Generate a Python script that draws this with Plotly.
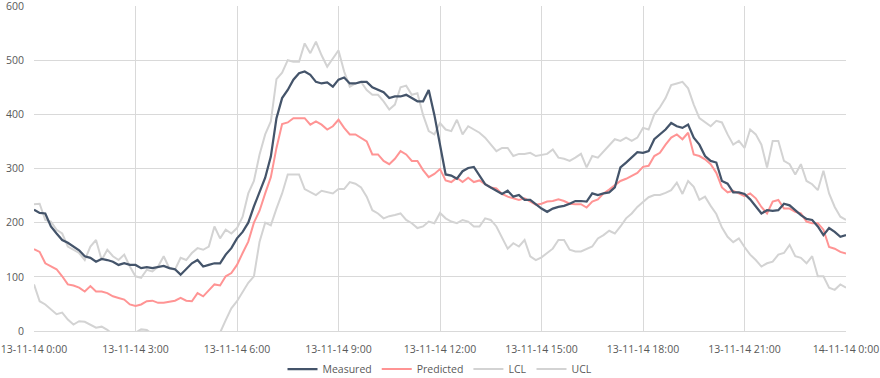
import pandas as pd
import plotly.graph_objects as go

# 10-minute samples, 13-11-14 0:00 .. 14-11-14 0:00
times = pd.date_range("2014-11-13 00:00", "2014-11-14 00:00", freq="10min")

measured = [
    224, 218, 217, 193, 180, 168, 163, 156, 149, 138, 135, 128, 133, 131, 128, 122, 125, 122,
    122, 116, 118, 116, 118, 120, 116, 114, 104, 114, 125, 131, 119, 122, 125, 125, 141, 153,
    171, 183, 200, 230, 255, 283, 322, 393, 430, 445, 464, 476, 479, 473, 460, 457, 459, 451,
    464, 468, 457, 457, 460, 460, 450, 445, 441, 430, 433, 433, 436, 430, 424, 424, 445, 399,
    344, 289, 287, 281, 295, 301, 303, 287, 271, 265, 259, 253, 259, 248, 251, 242, 242, 234,
    226, 220, 226, 229, 231, 235, 240, 240, 239, 254, 251, 254, 256, 265, 302, 311, 320, 330,
    329, 332, 354, 363, 372, 384, 378, 375, 381, 357, 344, 323, 314, 311, 277, 272, 256, 256,
    253, 243, 229, 217, 223, 222, 223, 235, 232, 223, 214, 207, 205, 193, 177, 190, 183, 174,
    177,
]
predicted = [
    151, 146, 125, 120, 114, 101, 86, 84, 80, 73, 83, 73, 73, 70, 64, 61, 58, 49,
    46, 49, 55, 56, 52, 52, 54, 56, 61, 56, 55, 70, 64, 76, 86, 84, 101, 107,
    122, 144, 165, 200, 222, 254, 284, 338, 382, 385, 393, 393, 393, 381, 387, 381, 372, 378,
    390, 375, 363, 363, 357, 350, 326, 326, 314, 308, 318, 332, 326, 314, 314, 297, 284, 290,
    299, 278, 275, 283, 275, 283, 275, 278, 271, 265, 263, 253, 248, 245, 242, 245, 239, 233,
    235, 239, 240, 243, 240, 235, 234, 234, 228, 239, 243, 254, 261, 269, 277, 281, 286, 292,
    303, 305, 323, 329, 344, 357, 363, 354, 366, 326, 323, 317, 308, 292, 265, 256, 259, 254,
    249, 254, 245, 229, 217, 239, 242, 226, 226, 220, 217, 202, 199, 199, 187, 155, 152, 146,
    143,
]
lcl = [
    86, 55, 49, 40, 31, 34, 21, 12, 18, 17, 12, 6, 8, 2, -6, -10, -8, -5,
    -3, 3, 2, -6, -12, -15, -18, -20, -22, -25, -20, -18, -15, -12, -8, -3, 20, 42,
    55, 73, 89, 101, 165, 200, 195, 226, 254, 289, 289, 289, 262, 256, 251, 259, 257, 254,
    262, 262, 275, 272, 265, 248, 223, 217, 208, 212, 214, 217, 205, 199, 190, 193, 202, 199,
    218, 208, 202, 199, 205, 202, 193, 193, 208, 205, 193, 171, 152, 162, 156, 168, 138, 131,
    136, 144, 152, 168, 168, 150, 147, 147, 152, 156, 171, 177, 185, 180, 193, 208, 217, 229,
    238, 247, 251, 251, 255, 260, 274, 253, 277, 266, 242, 248, 231, 216, 191, 174, 164, 171,
    155, 141, 131, 119, 125, 128, 141, 144, 159, 138, 135, 125, 138, 101, 101, 80, 76, 86,
    80,
]
ucl = [
    234, 235, 205, 202, 187, 180, 156, 150, 144, 131, 156, 168, 131, 150, 138, 131, 141, 119,
    101, 98, 113, 110, 119, 138, 116, 113, 135, 131, 144, 153, 150, 156, 193, 171, 187, 180,
    190, 211, 254, 277, 326, 363, 387, 465, 477, 500, 497, 497, 531, 513, 534, 509, 488, 503,
    518, 479, 451, 457, 460, 445, 436, 436, 424, 409, 418, 450, 453, 436, 439, 399, 369, 363,
    384, 372, 369, 390, 363, 378, 372, 366, 357, 344, 332, 338, 338, 323, 327, 327, 329, 323,
    325, 327, 335, 320, 318, 314, 320, 327, 302, 323, 320, 332, 344, 354, 351, 357, 351, 357,
    375, 372, 400, 413, 430, 454, 457, 460, 448, 418, 393, 385, 378, 388, 385, 363, 344, 351,
    338, 372, 363, 344, 302, 351, 351, 314, 308, 289, 308, 277, 271, 260, 296, 254, 229, 211,
    205,
]

tick_vals = pd.date_range("2014-11-13 00:00", "2014-11-14 00:00", freq="3h")
tick_text = ["13-11-14 0:00", "13-11-14 3:00", "13-11-14 6:00", "13-11-14 9:00",
             "13-11-14 12:00", "13-11-14 15:00", "13-11-14 18:00", "13-11-14 21:00",
             "14-11-14 0:00"]
y_ticks = [0, 100, 200, 300, 400, 500, 600]

GRAY = "#D3D3D3"
fig = go.Figure()
fig.add_trace(go.Scatter(x=times, y=lcl, name="LCL", mode="lines",
                         line=dict(color=GRAY, width=2), legendrank=3))
fig.add_trace(go.Scatter(x=times, y=ucl, name="UCL", mode="lines",
                         line=dict(color=GRAY, width=2), legendrank=4))
fig.add_trace(go.Scatter(x=times, y=predicted, name="Predicted", mode="lines",
                         line=dict(color="#FF9494", width=2), legendrank=2))
fig.add_trace(go.Scatter(x=times, y=measured, name="Measured", mode="lines",
                         line=dict(color="#44546A", width=2.25), legendrank=1))

font = dict(family="Open Sans", size=10.5, color="#595959")
fig.update_layout(
    width=880, height=378,
    margin=dict(l=34, r=34, t=6, b=47, autoexpand=False),
    paper_bgcolor="white", plot_bgcolor="white",
    font=font,
    showlegend=True,
    legend=dict(orientation="h", x=0.5, xanchor="center", y=-0.117, yanchor="middle",
                font=dict(family="Open Sans", size=10.5, color="#595959"),
                traceorder="normal", itemwidth=30),
    xaxis=dict(range=[times[0], times[-1]], tickvals=tick_vals, ticktext=tick_text,
               showgrid=True, gridcolor="#D9D9D9", gridwidth=1,
               showline=True, linecolor="#D9D9D9", linewidth=1, mirror=False,
               zeroline=False, ticks="", ticklabelstandoff=8, tickfont=font,
               automargin=False, ticklabeloverflow="allow"),
    yaxis=dict(range=[0, 600], tickvals=y_ticks,
               showgrid=True, gridcolor="#D9D9D9", gridwidth=1,
               showline=False, zeroline=False, ticks="", ticklabelstandoff=9,
               tickfont=font, automargin=False, ticklabeloverflow="allow"),
)

fig.write_html("out.html", config={"displayModeBar": False},
               post_script="document.body.style.margin='0';document.body.style.overflow='hidden';")
